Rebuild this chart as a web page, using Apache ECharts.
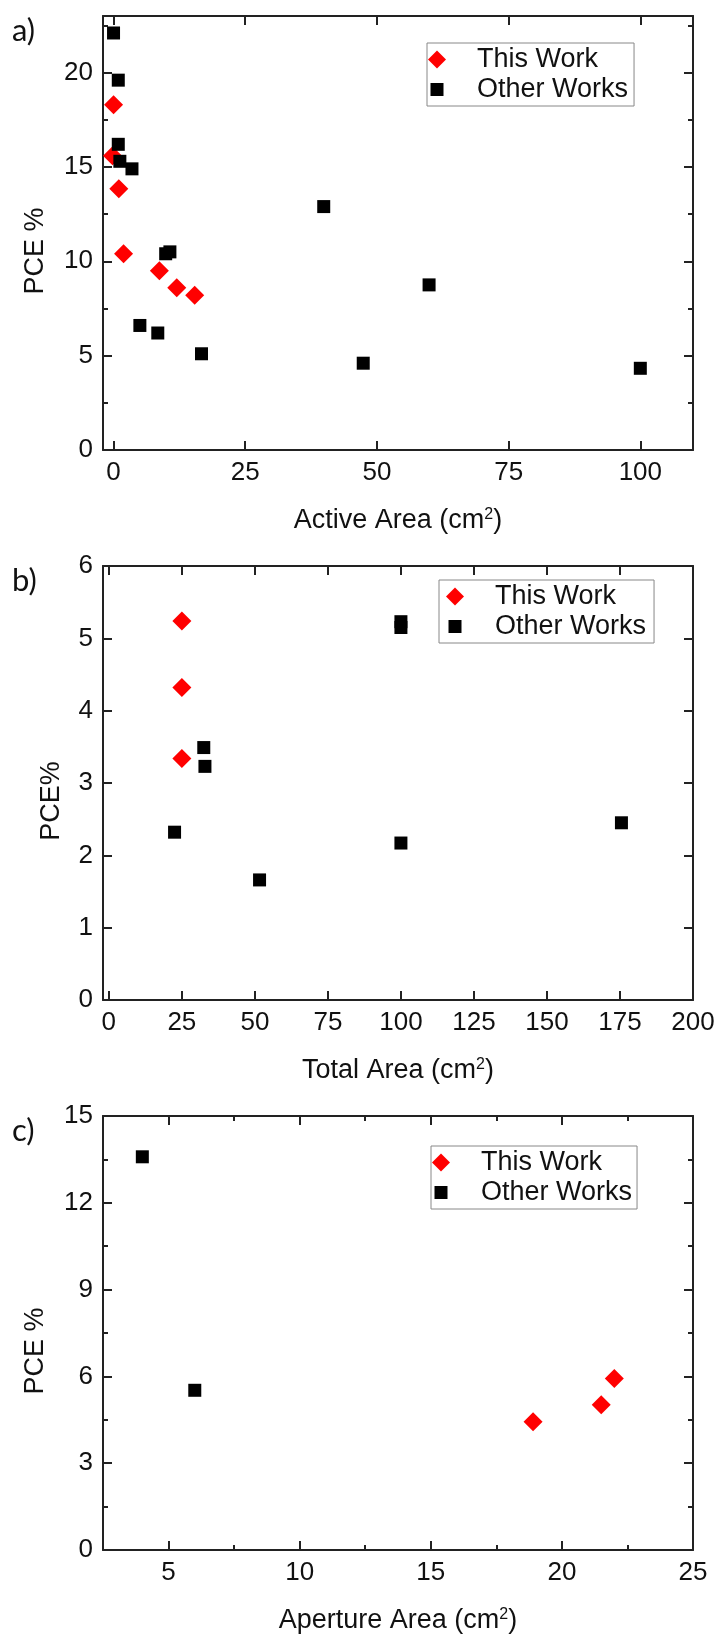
<!DOCTYPE html>
<html>
<head>
<meta charset="utf-8">
<script src="https://cdn.jsdelivr.net/npm/echarts@6/dist/echarts.min.js"></script>
<style>
  html, body { margin: 0; padding: 0; background: #fff; }
  #chart { width: 721px; height: 1639px; }
</style>
</head>
<body>
<div id="chart"></div>
<script>
// a) PCE vs active area
const activeThisWork = [[0, 18.3], [-0.2, 15.6], [1.0, 13.85], [1.9, 10.4], [8.7, 9.5], [12.0, 8.6], [15.4, 8.2]]
const activeOtherWorks = [[0, 22.1], [0.9, 19.6], [0.9, 16.2], [1.2, 15.3], [3.5, 14.9], [9.9, 10.4], [10.7, 10.5],
  [5.0, 6.6], [8.4, 6.2], [16.7, 5.1], [39.9, 12.9], [47.4, 4.6], [59.9, 8.75], [100, 4.33]]
// b) PCE vs total area
const totalThisWork = [[25, 5.24], [25, 4.32], [25, 3.34]]
const totalOtherWorks = [[32.5, 3.49], [32.9, 3.23], [22.5, 2.32], [51.6, 1.66], [100, 5.23], [100, 5.15],
  [100, 2.17], [175.5, 2.45]]
// c) PCE vs aperture area
const apertureThisWork = [[18.9, 4.43], [21.5, 5.02], [22.0, 5.93]]
const apertureOtherWorks = [[4.0, 13.59], [6.0, 5.52]]

// major ticks (labelled) and minor ticks
const activeXTicks = [0, 25, 50, 75, 100]
const activeYTicks = [0, 5, 10, 15, 20]
const activeYMinor = [2.5, 7.5, 12.5, 17.5, 22.5]
const totalXTicks = [0, 25, 50, 75, 100, 125, 150, 175, 200]
const totalYTicks = [0, 1, 2, 3, 4, 5, 6]
const apertureXTicks = [5, 10, 15, 20, 25]
const apertureXMinor = [7.5, 12.5, 17.5, 22.5]
const apertureYTicks = [0, 3, 6, 9, 12, 15]
const apertureYMinor = [1.5, 4.5, 7.5, 10.5, 13.5]

const seriesNames = ['This Work', 'Other Works']
const panelLabels = ['a)', 'b)', 'c)']

const FONT = '"Liberation Sans", Arial, sans-serif'
const AXIS_COLOR = '#222'
const LINE_W = 2

const panels = [
  {top: 16, xMin: -2, xMax: 110, yMin: 0, yMax: 23, xTicks: activeXTicks, xMinor: [],
    yTicks: activeYTicks, yMinor: activeYMinor, xName: 'Active Area (cm{sup|2})', yName: 'PCE %', yGap: 54,
    thisWork: activeThisWork, otherWorks: activeOtherWorks, legend: {left: 427, top: 43, pad: [3, 6, 3, 1]}},
  {top: 566, xMin: -2, xMax: 200, yMin: 0, yMax: 6, xTicks: totalXTicks, xMinor: [],
    yTicks: totalYTicks, yMinor: [], xName: 'Total Area (cm{sup|2})', yName: 'PCE%', yGap: 38,
    thisWork: totalThisWork, otherWorks: totalOtherWorks, legend: {left: 439, top: 580, pad: [3, 8, 3, 7]}},
  {top: 1116, xMin: 2.5, xMax: 25, yMin: 0, yMax: 15, xTicks: apertureXTicks, xMinor: apertureXMinor,
    yTicks: apertureYTicks, yMinor: apertureYMinor, xName: 'Aperture Area (cm{sup|2})', yName: 'PCE %', yGap: 54,
    thisWork: apertureThisWork, otherWorks: apertureOtherWorks, legend: {left: 431, top: 1146, pad: [3, 5, 3, 1]}}
]

const diamondIcon = 'path://M9,0L18,9L9,18L0,9Z'
const squareIcon = 'path://M0,0M18,18M2.5,2.5L15.5,2.5L15.5,15.5L2.5,15.5Z'

function tickAxis(gridIndex, pos, min, max, values, len, withLine) {
  return {
    type: 'value', gridIndex: gridIndex, position: pos, min: min, max: max,
    splitLine: {show: false},
    axisLine: {show: withLine, onZero: false, lineStyle: {color: AXIS_COLOR, width: LINE_W}},
    axisTick: {show: true, inside: true, length: len, customValues: values,
      lineStyle: {color: AXIS_COLOR, width: LINE_W}},
    axisLabel: {show: false}
  }
}

const option = {
  animation: false,
  backgroundColor: '#fff',
  textStyle: {fontFamily: FONT},
  title: [],
  legend: [],
  grid: [],
  xAxis: [],
  yAxis: [],
  series: []
}

panels.forEach((p, i) => {
  option.grid.push({left: 103, top: p.top, width: 590, height: 434})
  option.title.push({
    text: panelLabels[i], left: 12, top: p.top - 1, padding: 0,
    textStyle: {fontFamily: 'Lato, "Open Sans", sans-serif', fontSize: 31, fontWeight: 'normal', color: '#111'}
  })

  // bottom x axis with labels, top mirror
  const xMain = tickAxis(i, 'bottom', p.xMin, p.xMax, p.xTicks, 9, true)
  xMain.axisLabel = {show: true, customValues: p.xTicks, margin: 10, fontSize: 26, color: '#111', fontFamily: FONT}
  xMain.name = p.xName
  xMain.nameLocation = 'middle'
  xMain.nameGap = 57
  xMain.nameTextStyle = {fontSize: 27, color: '#111', fontFamily: FONT,
    rich: {sup: {fontSize: 16, color: '#111', verticalAlign: 'top', fontFamily: FONT}}}
  const xMainIdx = option.xAxis.length
  option.xAxis.push(xMain)
  option.xAxis.push(tickAxis(i, 'top', p.xMin, p.xMax, p.xTicks, 9, true))
  if (p.xMinor.length) {
    option.xAxis.push(tickAxis(i, 'bottom', p.xMin, p.xMax, p.xMinor, 5, false))
    option.xAxis.push(tickAxis(i, 'top', p.xMin, p.xMax, p.xMinor, 5, false))
  }

  // left y axis with labels, right mirror
  const yMain = tickAxis(i, 'left', p.yMin, p.yMax, p.yTicks, 9, true)
  yMain.axisLabel = {show: true, customValues: p.yTicks, margin: 10, fontSize: 26, color: '#111', fontFamily: FONT}
  yMain.name = p.yName
  yMain.nameLocation = 'middle'
  yMain.nameGap = p.yGap
  yMain.nameTextStyle = {fontSize: 27, color: '#111', fontFamily: FONT, padding: [0, 36, 0, 0]}
  const yMainIdx = option.yAxis.length
  option.yAxis.push(yMain)
  option.yAxis.push(tickAxis(i, 'right', p.yMin, p.yMax, p.yTicks, 9, true))
  if (p.yMinor.length) {
    option.yAxis.push(tickAxis(i, 'left', p.yMin, p.yMax, p.yMinor, 5, false))
    option.yAxis.push(tickAxis(i, 'right', p.yMin, p.yMax, p.yMinor, 5, false))
  }

  option.series.push({
    name: seriesNames[0], type: 'scatter', xAxisIndex: xMainIdx, yAxisIndex: yMainIdx,
    symbol: 'diamond', symbolSize: [19, 19], itemStyle: {color: '#ff0000', opacity: 1}, data: p.thisWork
  })
  option.series.push({
    name: seriesNames[1], type: 'scatter', xAxisIndex: xMainIdx, yAxisIndex: yMainIdx,
    symbol: 'rect', symbolSize: [13, 13], itemStyle: {color: '#000', opacity: 1}, data: p.otherWorks
  })

  option.legend.push({
    left: p.legend.left, top: p.legend.top, orient: 'vertical',
    padding: p.legend.pad, itemGap: 3, itemWidth: 70, itemHeight: 18,
    symbolKeepAspect: true, selectedMode: false,
    borderColor: '#888', borderWidth: 1,
    textStyle: {fontSize: 27, color: '#111', fontFamily: FONT},
    data: [
      {name: seriesNames[0], icon: diamondIcon, itemStyle: {color: '#ff0000', opacity: 1}},
      {name: seriesNames[1], icon: squareIcon, itemStyle: {color: '#000', opacity: 1}}
    ]
  })
})

const chart = echarts.init(document.getElementById('chart'), null, {renderer: 'canvas'})
chart.setOption(option)
</script>
</body>
</html>
